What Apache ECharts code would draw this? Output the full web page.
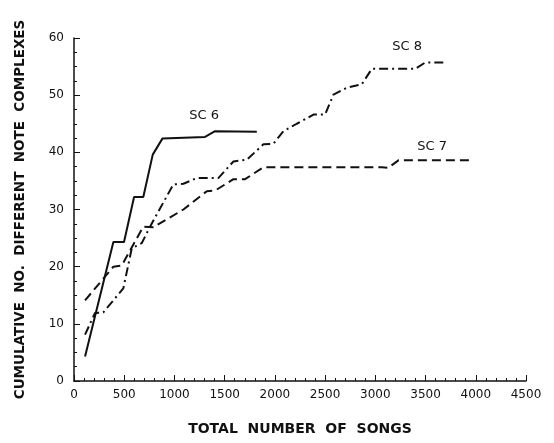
<!DOCTYPE html>
<html><head><meta charset="utf-8">
<script src="https://cdn.jsdelivr.net/npm/echarts@6/dist/echarts.min.js"></script>
<style>html,body{margin:0;padding:0;background:#fff}#c{width:554px;height:443px}</style>
</head><body><div id="c"></div>
<script>
const sc6 = [[110,4.3],[392,24.3],[498,24.3],[598,32.2],[690,32.2],[784,39.6],[880,42.4],[1305,42.7],[1404,43.7],[1820,43.6]];
const sc7 = [[110,14.1],[392,20.0],[475,20.2],[690,27.0],[790,26.9],[1089,30.0],[1322,33.2],[1404,33.3],[1587,35.3],[1703,35.3],[1886,37.4],[3065,37.4],[3130,37.3],[3230,38.6],[3961,38.6]];
const sc8 = [[110,8.1],[209,11.9],[292,12.0],[491,16.2],[575,23.2],[674,24.1],[757,27.0],[989,34.4],[1089,34.5],[1222,35.5],[1437,35.5],[1587,38.4],[1720,38.7],[1886,41.4],[1985,41.5],[2085,43.7],[2218,45.0],[2384,46.6],[2500,46.6],[2583,50.1],[2716,51.3],[2865,51.9],[2965,54.6],[3396,54.6],[3496,55.7],[3712,55.7]];
const seriesNames = ['SC 6','SC 7','SC 8'];
const labelPos = [[1295,46.4],[3566,41.0],[3317,58.5]];
const xTitle = 'TOTAL  NUMBER  OF  SONGS';
const yTitle = 'CUMULATIVE  NO.  DIFFERENT  NOTE  COMPLEXES';

const font = 'DejaVu Sans';
const chart = echarts.init(document.getElementById('c'));
const styles = [
  {type:'solid', width:2},
  {type:[9,5], width:2},
  {type:[9,4,2,4], width:2}
];
const datas = [sc6, sc7, sc8];
chart.setOption({
  animation:false,
  backgroundColor:'#fff',
  grid:{left:74, right:28, top:38, bottom:62},
  xAxis:{type:'value', min:0, max:4500, interval:500,
    name:xTitle, nameLocation:'middle', nameGap:41,
    nameTextStyle:{fontFamily:font, fontSize:14, fontWeight:'bold', color:'#111'},
    axisLine:{lineStyle:{color:'#111', width:1.5}},
    axisTick:{inside:true, length:6, lineStyle:{color:'#111'}},
    minorTick:{show:true, splitNumber:5, length:3, lineStyle:{color:'#111'}},
    axisLabel:{fontFamily:font, fontSize:12, color:'#111', margin:8, formatter:v=>String(v)},
    splitLine:{show:false}},
  yAxis:{type:'value', min:0, max:60, interval:10,
    name:yTitle, nameLocation:'middle', nameGap:47,
    nameTextStyle:{fontFamily:font, fontSize:13.5, fontWeight:'bold', color:'#111'},
    axisLine:{show:true, lineStyle:{color:'#111', width:1.5}},
    axisTick:{show:true, inside:true, length:6, lineStyle:{color:'#111'}},
    minorTick:{show:true, splitNumber:4, length:3, lineStyle:{color:'#111'}},
    axisLabel:{fontFamily:font, fontSize:12, color:'#111', margin:10},
    splitLine:{show:false}},
  series: datas.map((d,i)=>({
    name:seriesNames[i], type:'line', data:d, showSymbol:false, symbol:'none',
    lineStyle:{color:'#111', width:styles[i].width, type:styles[i].type},
    markPoint:{symbol:'circle', symbolSize:0, silent:true,
      data:[{coord:labelPos[i], value:seriesNames[i],
        label:{show:true, formatter:seriesNames[i], fontFamily:font, fontSize:13, color:'#111', position:'inside'}}]}
  }))
});
</script></body></html>
